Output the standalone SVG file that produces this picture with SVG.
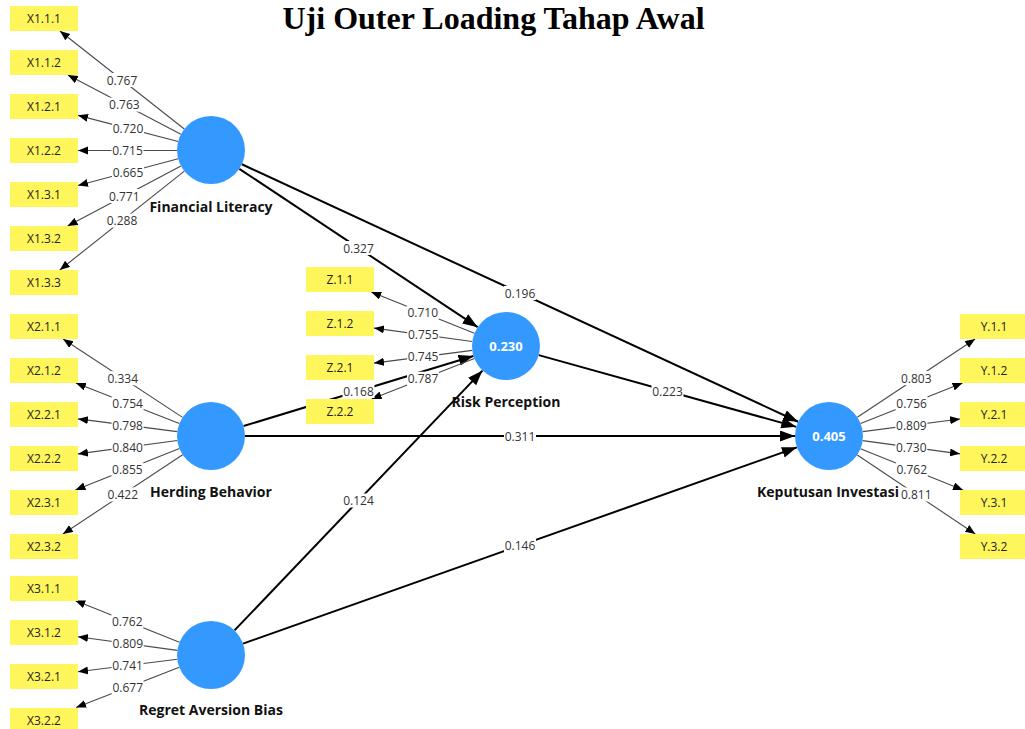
<svg xmlns="http://www.w3.org/2000/svg" width="1025" height="729" viewBox="0 0 1025 729">
<style>
.bg{fill:#ffffff}
.title{font-family:"Liberation Serif","Times New Roman",serif;font-weight:bold;font-size:32px;fill:#000;text-anchor:middle}
.ld{stroke:#4a4a4a;stroke-width:1.1;fill:none;marker-end:url(#ah)}
.pt{stroke:#000;stroke-width:2;fill:none;marker-end:url(#ahb)}
.lb rect{fill:#fff}
.lb text{font-family:"Open Sans","Noto Sans","DejaVu Sans",sans-serif;font-size:12px;fill:#333;text-anchor:middle}
.ind rect{fill:#fff65c}
.ind text{font-family:"Open Sans","Noto Sans","DejaVu Sans",sans-serif;font-size:12px;fill:#222;text-anchor:middle}
.lv circle{fill:#3399ff}
.lv .nm{font-family:"Open Sans","Noto Sans","DejaVu Sans",sans-serif;font-weight:bold;font-size:14px;fill:#111;text-anchor:middle}
.lv .r2{font-family:"Open Sans","Noto Sans","DejaVu Sans",sans-serif;font-weight:bold;font-size:13px;fill:#fff;text-anchor:middle}
</style>
<defs>
<marker id="ah" markerUnits="userSpaceOnUse" markerWidth="11" markerHeight="9" refX="10" refY="4" orient="auto">
<path d="M0,0 L10,4 L0,8 z" fill="#000"/>
</marker>
<marker id="ahb" markerUnits="userSpaceOnUse" markerWidth="16" markerHeight="12" refX="15" refY="5.5" orient="auto">
<path d="M0,0 L15,5.5 L0,11 z" fill="#000"/>
</marker>
</defs>
<rect class="bg" x="0" y="0" width="1025" height="729"/>
<text class="title" x="493.5" y="29">Uji Outer Loading Tahap Awal</text>

<g id="connectors">
<!-- structural paths -->
<line class="pt" x1="239.32" y1="168.82" x2="477.68" y2="327.18"/>
<line class="pt" x1="241.86" y1="164.28" x2="798.14" y2="421.72"/>
<line class="pt" x1="538.75" y1="355.13" x2="796.25" y2="426.87"/>
<line class="pt" x1="243.52" y1="426.08" x2="473.48" y2="355.92"/>
<line class="pt" x1="245" y1="436" x2="795" y2="436"/>
<line class="pt" x1="234.48" y1="630.41" x2="482.52" y2="370.59"/>
<line class="pt" x1="243.05" y1="643.64" x2="796.95" y2="447.36"/>
<!-- Financial Literacy loadings -->
<line class="ld" x1="184.29" y1="128.97" x2="59.9" y2="31"/>
<line class="ld" x1="180.88" y1="134.22" x2="67.86" y2="75"/>
<line class="ld" x1="178.1" y1="141.43" x2="78" y2="115.36"/>
<line class="ld" x1="177" y1="150.5" x2="78" y2="150.5"/>
<line class="ld" x1="178.15" y1="158.75" x2="78" y2="185.44"/>
<line class="ld" x1="180.96" y1="165.92" x2="67.58" y2="226"/>
<line class="ld" x1="184.37" y1="171.13" x2="59.75" y2="270"/>
<!-- Herding Behavior loadings -->
<line class="ld" x1="182.57" y1="417.36" x2="63.07" y2="339"/>
<line class="ld" x1="179.35" y1="423.59" x2="75.86" y2="383"/>
<line class="ld" x1="177.28" y1="431.66" x2="78" y2="418.88"/>
<line class="ld" x1="177.3" y1="440.54" x2="78" y2="453.92"/>
<line class="ld" x1="179.41" y1="448.58" x2="75.4" y2="490"/>
<line class="ld" x1="182.64" y1="454.76" x2="62.89" y2="534"/>
<!-- Regret Aversion Bias loadings -->
<line class="ld" x1="179.44" y1="642.34" x2="75.16" y2="600.5"/>
<line class="ld" x1="177.32" y1="650.36" x2="78" y2="636.68"/>
<line class="ld" x1="177.27" y1="659.24" x2="78" y2="671.72"/>
<line class="ld" x1="179.31" y1="667.33" x2="76.11" y2="707.5"/>
<!-- Risk Perception loadings -->
<line class="ld" x1="474.44" y1="333.36" x2="371.21" y2="292"/>
<line class="ld" x1="472.31" y1="341.43" x2="374" y2="328.11"/>
<line class="ld" x1="472.28" y1="350.37" x2="374" y2="363.1"/>
<line class="ld" x1="474.37" y1="358.48" x2="371.67" y2="399"/>
<!-- Keputusan Investasi loadings -->
<line class="ld" x1="857.33" y1="417.2" x2="975.16" y2="339"/>
<line class="ld" x1="860.6" y1="423.46" x2="962.52" y2="383"/>
<line class="ld" x1="862.71" y1="431.61" x2="960" y2="418.93"/>
<line class="ld" x1="862.69" y1="440.59" x2="960" y2="453.86"/>
<line class="ld" x1="860.53" y1="448.71" x2="962.98" y2="490"/>
<line class="ld" x1="857.25" y1="454.92" x2="975.34" y2="534"/>
</g>

<g id="indicators">
<g id="X1.1.1" class="ind"><rect x="10" y="6" width="68" height="25"/><text x="44" y="23">X1.1.1</text></g>
<g id="X1.1.2" class="ind"><rect x="10" y="50" width="68" height="25"/><text x="44" y="67">X1.1.2</text></g>
<g id="X1.2.1" class="ind"><rect x="10" y="94" width="68" height="25"/><text x="44" y="111">X1.2.1</text></g>
<g id="X1.2.2" class="ind"><rect x="10" y="138" width="68" height="25"/><text x="44" y="155">X1.2.2</text></g>
<g id="X1.3.1" class="ind"><rect x="10" y="182" width="68" height="25"/><text x="44" y="199">X1.3.1</text></g>
<g id="X1.3.2" class="ind"><rect x="10" y="226" width="68" height="25"/><text x="44" y="243">X1.3.2</text></g>
<g id="X1.3.3" class="ind"><rect x="10" y="270" width="68" height="25"/><text x="44" y="287">X1.3.3</text></g>
<g id="X2.1.1" class="ind"><rect x="10" y="314" width="68" height="25"/><text x="44" y="331">X2.1.1</text></g>
<g id="X2.1.2" class="ind"><rect x="10" y="358" width="68" height="25"/><text x="44" y="375">X2.1.2</text></g>
<g id="X2.2.1" class="ind"><rect x="10" y="402" width="68" height="25"/><text x="44" y="419">X2.2.1</text></g>
<g id="X2.2.2" class="ind"><rect x="10" y="446" width="68" height="25"/><text x="44" y="463">X2.2.2</text></g>
<g id="X2.3.1" class="ind"><rect x="10" y="490" width="68" height="25"/><text x="44" y="507">X2.3.1</text></g>
<g id="X2.3.2" class="ind"><rect x="10" y="534" width="68" height="25"/><text x="44" y="551">X2.3.2</text></g>
<g id="X3.1.1" class="ind"><rect x="10" y="576" width="68" height="25"/><text x="44" y="593">X3.1.1</text></g>
<g id="X3.1.2" class="ind"><rect x="10" y="620" width="68" height="25"/><text x="44" y="637">X3.1.2</text></g>
<g id="X3.2.1" class="ind"><rect x="10" y="664" width="68" height="25"/><text x="44" y="681">X3.2.1</text></g>
<g id="X3.2.2" class="ind"><rect x="10" y="708" width="68" height="25"/><text x="44" y="725">X3.2.2</text></g>
<g id="Z.1.1" class="ind"><rect x="306" y="267" width="68" height="25"/><text x="340" y="284">Z.1.1</text></g>
<g id="Z.1.2" class="ind"><rect x="306" y="311" width="68" height="25"/><text x="340" y="328">Z.1.2</text></g>
<g id="Z.2.1" class="ind"><rect x="306" y="355" width="68" height="25"/><text x="340" y="372">Z.2.1</text></g>
<g id="Z.2.2" class="ind"><rect x="306" y="399" width="68" height="25"/><text x="340" y="416">Z.2.2</text></g>
<g id="Y.1.1" class="ind"><rect x="960" y="314" width="68" height="25"/><text x="994" y="331">Y.1.1</text></g>
<g id="Y.1.2" class="ind"><rect x="960" y="358" width="68" height="25"/><text x="994" y="375">Y.1.2</text></g>
<g id="Y.2.1" class="ind"><rect x="960" y="402" width="68" height="25"/><text x="994" y="419">Y.2.1</text></g>
<g id="Y.2.2" class="ind"><rect x="960" y="446" width="68" height="25"/><text x="994" y="463">Y.2.2</text></g>
<g id="Y.3.1" class="ind"><rect x="960" y="490" width="68" height="25"/><text x="994" y="507">Y.3.1</text></g>
<g id="Y.3.2" class="ind"><rect x="960" y="534" width="68" height="25"/><text x="994" y="551">Y.3.2</text></g>
</g>

<g id="connector-labels">
<g class="lb"><rect x="342.5" y="241" width="32" height="14"/><text x="358.5" y="252.5">0.327</text></g>
<g class="lb"><rect x="504" y="286" width="32" height="14"/><text x="520" y="297.5">0.196</text></g>
<g class="lb"><rect x="651.5" y="384" width="32" height="14"/><text x="667.5" y="395.5">0.223</text></g>
<g class="lb"><rect x="342.5" y="384" width="32" height="14"/><text x="358.5" y="395.5">0.168</text></g>
<g class="lb"><rect x="504" y="429" width="32" height="14"/><text x="520" y="440.5">0.311</text></g>
<g class="lb"><rect x="342.5" y="493.5" width="32" height="14"/><text x="358.5" y="505">0.124</text></g>
<g class="lb"><rect x="504" y="538.5" width="32" height="14"/><text x="520" y="550">0.146</text></g>

<g class="lb"><rect x="106" y="73" width="32" height="14"/><text x="122" y="84.5">0.767</text></g>
<g class="lb"><rect x="108.4" y="97.6" width="32" height="14"/><text x="124.4" y="109">0.763</text></g>
<g class="lb"><rect x="112" y="121.4" width="32" height="14"/><text x="128" y="133">0.720</text></g>
<g class="lb"><rect x="111.5" y="143.5" width="32" height="14"/><text x="127.5" y="155">0.715</text></g>
<g class="lb"><rect x="112" y="165.1" width="32" height="14"/><text x="128" y="176.6">0.665</text></g>
<g class="lb"><rect x="108.3" y="189" width="32" height="14"/><text x="124.3" y="200.5">0.771</text></g>
<g class="lb"><rect x="106" y="213.6" width="32" height="14"/><text x="122" y="225.1">0.288</text></g>

<g class="lb"><rect x="106.8" y="371.2" width="32" height="14"/><text x="122.8" y="382.7">0.334</text></g>
<g class="lb"><rect x="111.6" y="396.3" width="32" height="14"/><text x="127.6" y="407.8">0.754</text></g>
<g class="lb"><rect x="111.6" y="418.3" width="32" height="14"/><text x="127.6" y="429.8">0.798</text></g>
<g class="lb"><rect x="111.6" y="440.2" width="32" height="14"/><text x="127.6" y="451.7">0.840</text></g>
<g class="lb"><rect x="111.4" y="462.3" width="32" height="14"/><text x="127.4" y="473.8">0.855</text></g>
<g class="lb"><rect x="106.8" y="487.4" width="32" height="14"/><text x="122.8" y="498.9">0.422</text></g>

<g class="lb"><rect x="111.3" y="614.4" width="32" height="14"/><text x="127.3" y="625.9">0.762</text></g>
<g class="lb"><rect x="111.7" y="636.5" width="32" height="14"/><text x="127.7" y="648">0.809</text></g>
<g class="lb"><rect x="111.6" y="658.5" width="32" height="14"/><text x="127.6" y="670">0.741</text></g>
<g class="lb"><rect x="111.7" y="680.4" width="32" height="14"/><text x="127.7" y="691.9">0.677</text></g>

<g class="lb"><rect x="406.8" y="305.7" width="32" height="14"/><text x="422.8" y="317.2">0.710</text></g>
<g class="lb"><rect x="407.2" y="327.8" width="32" height="14"/><text x="423.2" y="339.3">0.755</text></g>
<g class="lb"><rect x="407.1" y="349.7" width="32" height="14"/><text x="423.1" y="361.2">0.745</text></g>
<g class="lb"><rect x="407" y="371.7" width="32" height="14"/><text x="423" y="383.2">0.787</text></g>

<g class="lb"><rect x="900.2" y="371.1" width="32" height="14"/><text x="916.2" y="382.6">0.803</text></g>
<g class="lb"><rect x="895.6" y="396.2" width="32" height="14"/><text x="911.6" y="407.7">0.756</text></g>
<g class="lb"><rect x="895.4" y="418.3" width="32" height="14"/><text x="911.4" y="429.8">0.809</text></g>
<g class="lb"><rect x="895.3" y="440.2" width="32" height="14"/><text x="911.3" y="451.7">0.730</text></g>
<g class="lb"><rect x="895.8" y="462.4" width="32" height="14"/><text x="911.8" y="473.9">0.762</text></g>
<g class="lb"><rect x="900.3" y="487.5" width="32" height="14"/><text x="916.3" y="499">0.811</text></g>
</g>

<g id="FinancialLiteracy" class="lv"><circle cx="211" cy="150" r="34"/><text class="nm" x="211" y="212">Financial Literacy</text></g>
<g id="HerdingBehavior" class="lv"><circle cx="211" cy="436" r="34"/><text class="nm" x="211" y="497">Herding Behavior</text></g>
<g id="RegretAversionBias" class="lv"><circle cx="211" cy="655" r="34"/><text class="nm" x="211" y="715">Regret Aversion Bias</text></g>
<g id="RiskPerception" class="lv"><circle cx="506" cy="346" r="34"/><text class="r2" x="506" y="350.5">0.230</text><text class="nm" x="506" y="407">Risk Perception</text></g>
<g id="KeputusanInvestasi" class="lv"><circle cx="829" cy="436" r="34"/><text class="r2" x="829" y="440.5">0.405</text><text class="nm" x="828" y="497">Keputusan Investasi</text></g>
</svg>
